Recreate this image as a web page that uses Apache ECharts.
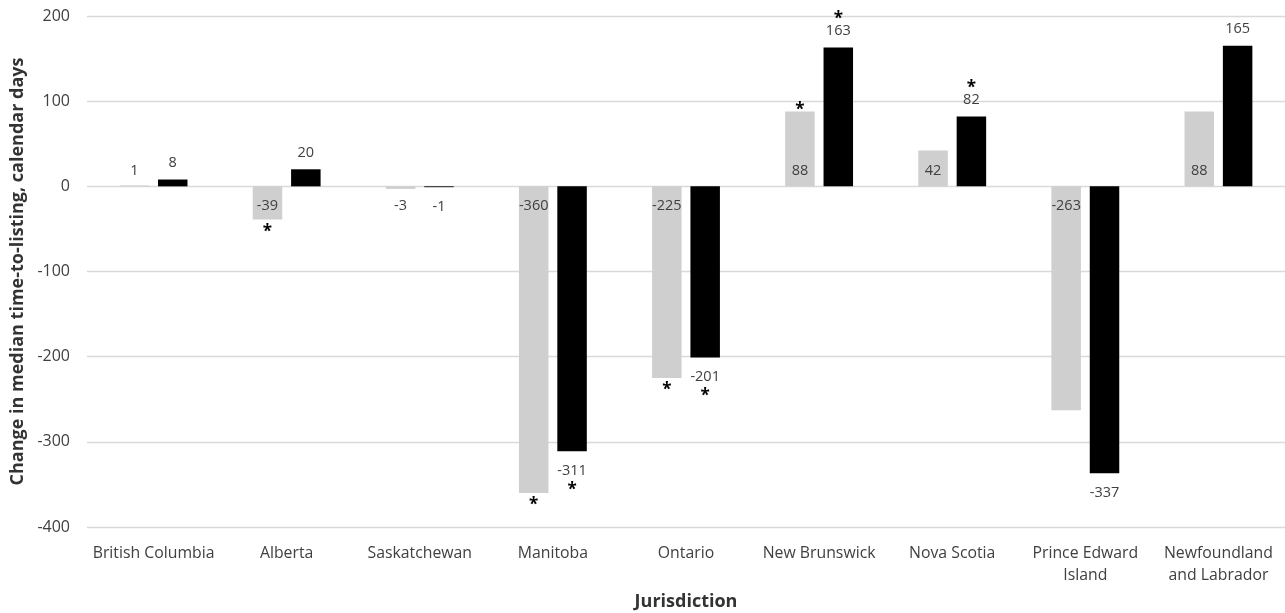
<!DOCTYPE html>
<html><head><meta charset="utf-8">
<script src="https://cdn.jsdelivr.net/npm/echarts@6/dist/echarts.min.js"></script>
<style>html,body{margin:0;padding:0;background:#fff}#c{width:1285px;height:613px}</style>
</head><body><div id="c"></div>
<script>
const categories = ['British Columbia','Alberta','Saskatchewan','Manitoba','Ontario','New Brunswick','Nova Scotia','Prince Edward\nIsland','Newfoundland\nand Labrador'];
const grayValues = [1,-39,-3,-360,-225,88,42,-263,88];
const blackValues = [8,20,-1,-311,-201,163,82,-337,165];
const graySig = [false,true,false,true,true,true,false,false,false];
const blackSig = [false,false,false,true,true,true,true,false,false];
const yMin = -400, yMax = 200, yInterval = 100;
const yTitle = 'Change in median time-to-listing, calendar days';
const xTitle = 'Jurisdiction';

const FONT = 'Open Sans';
const TXT = '#404040';
const TITLE = '#333333';

const grayData = grayValues.map(v => ({
  value: v,
  label: v >= 0 ? {position: 'insideBottom', distance: 8} : {position: 'insideTop', distance: 12}
}));
const grayStarData = grayValues.map((v, i) => graySig[i] ? {
  value: v >= 0 ? 0.0001 : -0.0001,
  label: v >= 0 ? {position: 'top', distance: -7} : {position: 'bottom', distance: 4}
} : '-');
const blackData = blackValues.map(v => ({
  value: v,
  label: v >= 0 ? {position: 'top', distance: 8} : {position: 'bottom', distance: 11}
}));

const chart = echarts.init(document.getElementById('c'), null, {renderer: 'canvas'});
chart.setOption({
  animation: false,
  textStyle: {fontFamily: FONT},
  grid: {left: 87, right: 0, top: 16, bottom: 86, containLabel: false, outerBoundsMode: 'none'},
  xAxis: {
    type: 'category',
    data: categories,
    position: 'bottom',
    axisLine: {show: false, onZero: false},
    axisTick: {show: false},
    axisLabel: {color: TXT, fontSize: 15.8, fontFamily: FONT, margin: 15, interval: 0, lineHeight: 22},
    name: xTitle,
    nameLocation: 'middle',
    nameGap: 66,
    nameTextStyle: {fontWeight: 'bold', fontSize: 18, color: TITLE, fontFamily: FONT}
  },
  yAxis: {
    type: 'value',
    min: yMin, max: yMax, interval: yInterval,
    axisLine: {show: false},
    axisTick: {show: false},
    axisLabel: {color: TXT, fontSize: 16, fontFamily: FONT, margin: 17},
    splitLine: {lineStyle: {color: '#d9d9d9', width: 1.3}},
    name: yTitle,
    nameLocation: 'middle',
    nameGap: 58,
    nameTextStyle: {fontWeight: 'bold', fontSize: 18, color: TITLE, fontFamily: FONT}
  },
  series: [
    {
      type: 'bar', name: 'gray', stack: 'g', data: grayData,
      barWidth: 29.5, barGap: '30%',
      itemStyle: {color: '#cfcfcf'},
      label: {show: true, color: TXT, fontSize: 14.5, fontFamily: FONT, formatter: p => String(p.value)}
    },
    {
      type: 'bar', name: 'grayStar', stack: 'g', data: grayStarData,
      barWidth: 29.5,
      itemStyle: {color: 'rgba(0,0,0,0)'},
      label: {show: true, formatter: '*', color: '#000', fontSize: 17, fontWeight: 'bold', fontFamily: FONT}
    },
    {
      type: 'bar', name: 'black', data: blackData,
      barWidth: 29.5,
      itemStyle: {color: '#000'},
      label: {
        show: true, color: TXT, fontSize: 14.5, fontFamily: FONT,
        formatter: p => {
          const i = p.dataIndex, v = p.value;
          if (!blackSig[i]) return '{v|' + v + '}';
          return v >= 0 ? '{su|*}\n{v|' + v + '}' : '{v|' + v + '}\n{sd|*}';
        },
        rich: {
          v: {color: TXT, fontSize: 14.5, fontFamily: FONT, lineHeight: 17},
          su: {color: '#000', fontSize: 17, fontWeight: 'bold', fontFamily: FONT, lineHeight: 7},
          sd: {color: '#000', fontSize: 17, fontWeight: 'bold', fontFamily: FONT, lineHeight: 21}
        }
      }
    }
  ]
});
</script></body></html>
